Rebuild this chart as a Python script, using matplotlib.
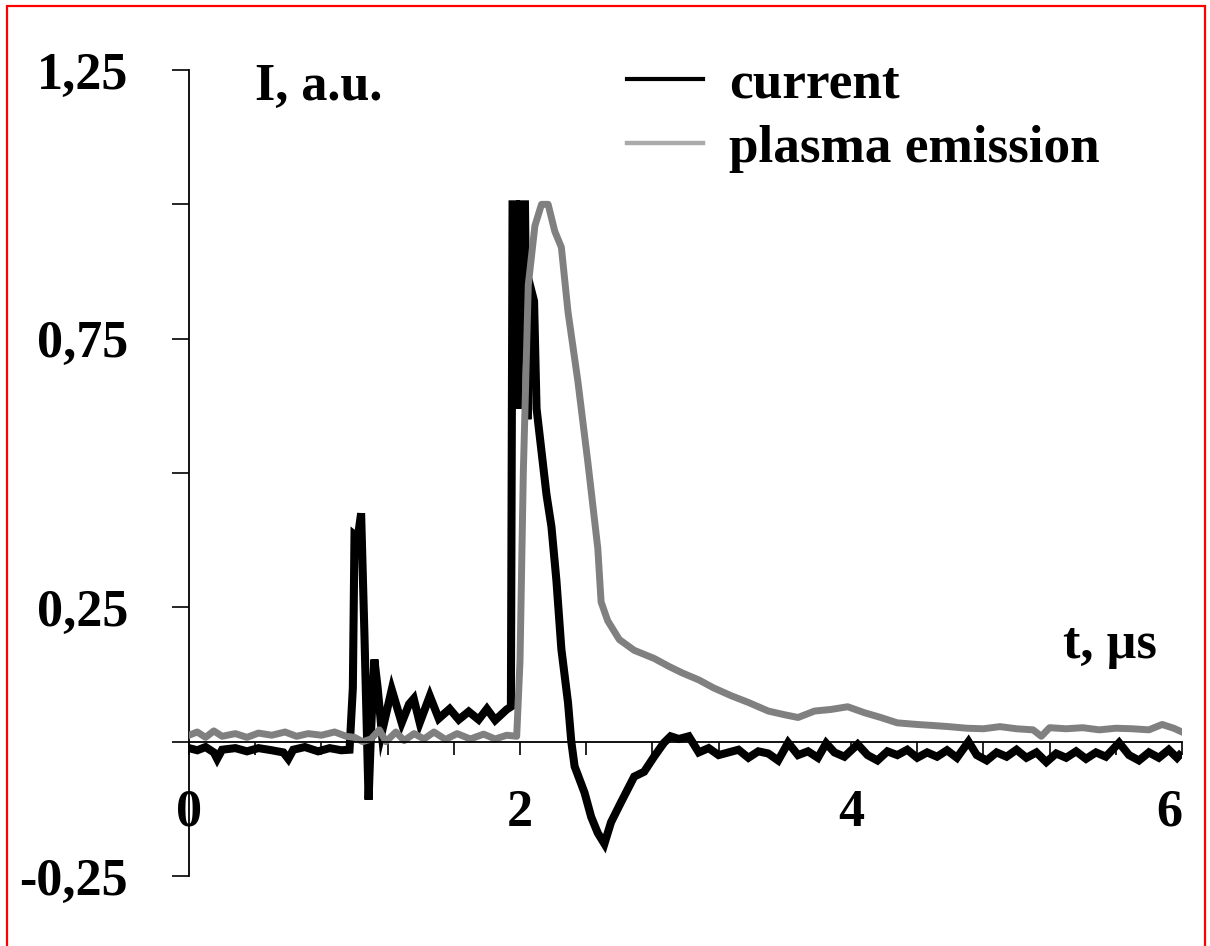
import matplotlib
matplotlib.use("Agg")
import matplotlib.pyplot as plt
from matplotlib.lines import Line2D
from matplotlib.patches import Rectangle
import numpy as np

# ---------------- data ----------------
t_current = [0.00, 0.05, 0.10, 0.15, 0.17, 0.20, 0.28, 0.35, 0.42, 0.50, 0.57, 0.60, 0.63,
             0.70, 0.78, 0.85, 0.92, 0.97, 0.99, 1.00, 1.02, 1.04, 1.06, 1.085, 1.10, 1.12,
             1.14, 1.165, 1.225, 1.285, 1.33, 1.358, 1.394, 1.455, 1.509, 1.575, 1.63, 1.69,
             1.75, 1.80, 1.85, 1.92, 1.945, 1.955, 1.975, 1.99, 2.00, 2.03, 2.045, 2.06,
             2.085, 2.10, 2.13, 2.16, 2.19, 2.22, 2.25, 2.29, 2.31, 2.33, 2.39, 2.43, 2.47,
             2.51, 2.55, 2.61, 2.69, 2.75, 2.81, 2.87, 2.91, 2.96, 3.02, 3.08, 3.14, 3.20,
             3.26, 3.32, 3.38, 3.44, 3.50, 3.56, 3.62, 3.68, 3.74, 3.80, 3.85, 3.90, 3.96,
             4.04, 4.10, 4.16, 4.22, 4.28, 4.34, 4.40, 4.46, 4.52, 4.58, 4.64, 4.71, 4.76,
             4.82, 4.88, 4.94, 5.00, 5.06, 5.12, 5.18, 5.24, 5.30, 5.36, 5.42, 5.48, 5.54,
             5.62, 5.68, 5.74, 5.80, 5.86, 5.92, 5.97, 6.00]
i_current = [-0.012, -0.016, -0.010, -0.020, -0.032, -0.015, -0.012, -0.018, -0.012, -0.016,
             -0.020, -0.032, -0.015, -0.010, -0.018, -0.012, -0.016, -0.015, 0.10, 0.385, 0.38,
             0.425, 0.20, -0.108, 0.02, 0.153, 0.10, 0.017, 0.097, 0.035, 0.07, 0.080, 0.035,
             0.085, 0.043, 0.061, 0.041, 0.056, 0.041, 0.061, 0.040, 0.060, 0.065, 1.0, 1.0,
             0.62, 1.0, 1.0, 0.60, 0.85, 0.82, 0.62, 0.54, 0.46, 0.40, 0.30, 0.172, 0.073,
             0.0, -0.046, -0.095, -0.14, -0.17, -0.19, -0.15, -0.113, -0.065, -0.056, -0.028,
             -0.002, 0.01, 0.005, 0.01, -0.02, -0.012, -0.025, -0.02, -0.015, -0.03, -0.018,
             -0.022, -0.035, -0.002, -0.025, -0.018, -0.03, -0.003, -0.02, -0.028, -0.005,
             -0.025, -0.035, -0.018, -0.025, -0.015, -0.03, -0.02, -0.028, -0.016, -0.03, 0.0,
             -0.025, -0.035, -0.02, -0.028, -0.015, -0.03, -0.02, -0.038, -0.022, -0.03,
             -0.018, -0.032, -0.02, -0.028, -0.002, -0.025, -0.035, -0.02, -0.03, -0.015,
             -0.03, -0.02]

t_emission = [0.00, 0.05, 0.10, 0.15, 0.20, 0.28, 0.35, 0.42, 0.50, 0.58, 0.65, 0.72, 0.80,
              0.88, 0.95, 1.00, 1.05, 1.10, 1.15, 1.19, 1.25, 1.30, 1.36, 1.42, 1.48, 1.55,
              1.62, 1.70, 1.78, 1.85, 1.92, 1.98, 2.00, 2.02, 2.05, 2.09, 2.13, 2.17, 2.21,
              2.25, 2.29, 2.35, 2.41, 2.47, 2.49, 2.53, 2.60, 2.69, 2.81, 2.90, 2.98, 3.08,
              3.17, 3.28, 3.38, 3.50, 3.60, 3.68, 3.78, 3.88, 3.98, 4.08, 4.18, 4.28, 4.40,
              4.50, 4.59, 4.70, 4.80, 4.90, 5.00, 5.10, 5.15, 5.20, 5.30, 5.40, 5.50, 5.60,
              5.70, 5.80, 5.88, 5.95, 6.00]
i_emission = [0.012, 0.018, 0.008, 0.020, 0.010, 0.015, 0.008, 0.016, 0.012, 0.018, 0.010,
              0.015, 0.012, 0.018, 0.010, 0.008, 0.000, 0.005, 0.022, 0.000, 0.018, 0.002,
              0.015, 0.005, 0.018, 0.004, 0.015, 0.005, 0.014, 0.005, 0.012, 0.010, 0.15,
              0.50, 0.85, 0.96, 1.0, 1.0, 0.95, 0.92, 0.80, 0.67, 0.52, 0.36, 0.26, 0.225,
              0.19, 0.17, 0.155, 0.14, 0.128, 0.115, 0.10, 0.085, 0.073, 0.057, 0.05, 0.045,
              0.057, 0.06, 0.065, 0.054, 0.045, 0.035, 0.032, 0.03, 0.028, 0.025, 0.024,
              0.028, 0.024, 0.022, 0.010, 0.026, 0.024, 0.026, 0.022, 0.025, 0.024, 0.022,
              0.032, 0.025, 0.018]

series_names = ["current", "plasma emission"]
y_label_values = [-0.25, 0.25, 0.75, 1.25]
y_label_texts = ["-0,25", "0,25", "0,75", "1,25"]
y_unlabeled = [0.0, 0.5, 1.0]
x_label_values = [0, 2, 4, 6]
x_label_texts = ["0", "2", "4", "6"]

# ---------------- style ----------------
plt.rcParams['font.family'] = ['Liberation Serif', 'DejaVu Serif']
plt.rcParams['font.weight'] = 'bold'
FS = 37.5

fig = plt.figure(figsize=(12.10, 9.46), dpi=100)
ax = fig.add_axes([189/1210, 1-876/946, (1182-189)/1210, (876-70)/946])

ax.plot(t_current, i_current, color='black', lw=5.8, solid_joinstyle='miter',
        solid_capstyle='butt', zorder=3)
ax.plot(t_emission, i_emission, color='#808080', lw=5.0, zorder=4)

ax.set_xlim(0, 6)
ax.set_ylim(-0.25, 1.25)

for s in ['top', 'right']:
    ax.spines[s].set_visible(False)
ax.spines['bottom'].set_position(('data', 0))
ax.spines['bottom'].set_linewidth(1.3)
ax.spines['left'].set_linewidth(1.3)
ax.spines['bottom'].set_zorder(5)

ax.set_yticks(y_label_values)
ax.set_yticklabels(y_label_texts, fontsize=FS, fontweight='bold')
ax.set_yticks(y_unlabeled, minor=True)
ax.tick_params(axis='y', which='both', direction='out', length=12, width=1.2, pad=32)

ax.set_xticks(x_label_values)
ax.set_xticklabels(x_label_texts, fontsize=FS, fontweight='bold')
ax.set_xticks(np.arange(0, 6.01, 0.4), minor=True)
ax.tick_params(axis='x', which='both', direction='out', length=9, width=1.2, pad=25)
for lab in ax.get_xticklabels():
    if lab.get_text() == "6":
        lab.set_horizontalalignment('right')
        lab.set_x(6)

ax.text(0.40, 1.194, "I, a.u.", fontsize=FS, fontweight='bold', ha='left', va='baseline')
ax.text(5.28, 0.156, "t, \u00b5s", fontsize=FS, fontweight='bold', ha='left', va='baseline')

handles = [Line2D([], [], color='black', lw=3.0),
           Line2D([], [], color='#aaaaaa', lw=3.2)]
leg = ax.legend(handles, series_names, loc='upper left',
                bbox_to_anchor=((627-189)/993, (876-60)/806), frameon=False,
                prop={'family': 'Liberation Serif', 'weight': 'bold', 'size': FS + 0.8},
                handlelength=1.42, handletextpad=0.5, labelspacing=0.31,
                borderpad=0, borderaxespad=0)

# red frame around the picture
fig.add_artist(Rectangle((7/1210, -0.01), (1205-7)/1210, (1 - 6/946) + 0.01,
                         transform=fig.transFigure, fill=False, edgecolor='red', lw=1.6))

fig.savefig("out.png", dpi=100, facecolor='white')
